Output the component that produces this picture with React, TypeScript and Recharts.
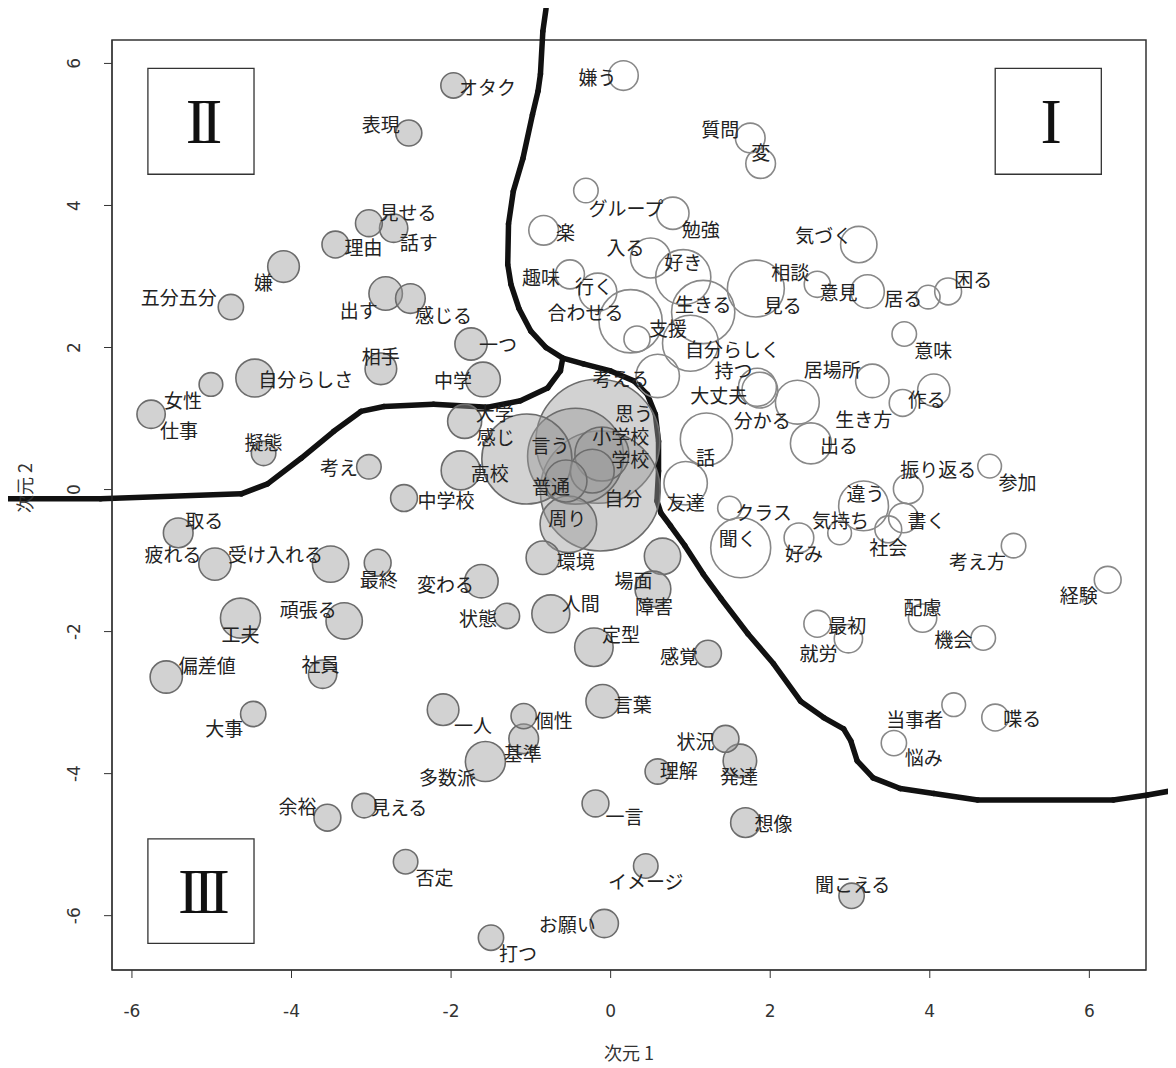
import React from 'react';
import { ScatterChart, Scatter, XAxis, YAxis, ZAxis, ReferenceArea, ReferenceLine, Label } from 'recharts';

type Term = [string, number, number, number]; // word, 次元1, 次元2, frequency

const xTicks = [-6, -4, -2, 0, 2, 4, 6];
const yTicks = [-6, -4, -2, 0, 2, 4, 6];
const xDomain: [number, number] = [-6.25, 6.71];
const yDomain: [number, number] = [-6.765, 6.33];

// Clusters II / III (grey bubbles)
const grayTerms: Term[] = [
  ['オタク', -1.97, 5.69, 16],
  ['表現', -2.53, 5.02, 17],
  ['見せる', -3.03, 3.75, 18],
  ['話す', -2.72, 3.68, 20],
  ['理由', -3.45, 3.45, 18],
  ['嫌', -4.1, 3.14, 25],
  ['五分五分', -4.76, 2.57, 16],
  ['出す', -2.82, 2.76, 28],
  ['感じる', -2.51, 2.69, 22],
  ['一つ', -1.75, 2.05, 26],
  ['相手', -2.88, 1.7, 25],
  ['自分らしさ', -4.46, 1.57, 36],
  ['女性', -5.01, 1.48, 14],
  ['仕事', -5.76, 1.06, 20],
  ['擬態', -4.35, 0.51, 15],
  ['考え', -3.03, 0.32, 15],
  ['中学', -1.6, 1.55, 30],
  ['大学', -1.83, 0.96, 29],
  ['高校', -1.88, 0.27, 38],
  ['中学校', -2.59, -0.12, 18],
  ['取る', -5.42, -0.61, 22],
  ['疲れる', -4.96, -1.05, 26],
  ['受け入れる', -3.51, -1.05, 33],
  ['最終', -2.92, -1.03, 18],
  ['変わる', -1.62, -1.29, 28],
  ['頑張る', -3.34, -1.85, 33],
  ['工夫', -4.64, -1.81, 40],
  ['状態', -1.3, -1.78, 16],
  ['偏差値', -5.57, -2.64, 26],
  ['社員', -3.61, -2.6, 20],
  ['大事', -4.48, -3.16, 16],
  ['一人', -2.1, -3.1, 25],
  ['多数派', -1.57, -3.83, 40],
  ['余裕', -3.55, -4.62, 18],
  ['見える', -3.09, -4.45, 15],
  ['否定', -2.57, -5.24, 15],
  ['打つ', -1.5, -6.31, 16],
  ['個性', -1.09, -3.19, 16],
  ['基準', -1.09, -3.51, 22],
  ['言葉', -0.1, -2.98, 28],
  ['人間', -0.75, -1.75, 36],
  ['定型', -0.21, -2.22, 37],
  ['場面', 0.65, -0.94, 33],
  ['障害', 0.53, -1.4, 32],
  ['感覚', 1.22, -2.31, 18],
  ['状況', 1.44, -3.51, 18],
  ['発達', 1.62, -3.82, 28],
  ['理解', 0.59, -3.97, 16],
  ['一言', -0.19, -4.42, 18],
  ['想像', 1.69, -4.69, 22],
  ['イメージ', 0.44, -5.3, 15],
  ['お願い', -0.08, -6.11, 20],
  ['聞こえる', 3.02, -5.72, 16],
  ['環境', -0.85, -0.96, 28],
  ['周り', -0.53, -0.49, 80],
  ['普通', -0.56, 0.12, 44],
  ['感じ', -1.05, 0.43, 203],
  ['言う', -0.44, 0.47, 230],
  ['小学校', -0.11, 0.5, 73],
  ['学校', -0.23, 0.26, 48],
  ['思う', -0.16, 0.68, 384],
  ['自分', -0.13, -0.02, 360],
];

// Cluster I (white bubbles)
const whiteTerms: Term[] = [
  ['嫌う', 0.16, 5.83, 22],
  ['質問', 1.75, 4.95, 22],
  ['変', 1.88, 4.59, 22],
  ['グループ', -0.31, 4.21, 15],
  ['勉強', 0.78, 3.89, 26],
  ['楽', -0.84, 3.65, 22],
  ['入る', 0.5, 3.26, 40],
  ['好き', 0.91, 2.99, 76],
  ['趣味', -0.51, 3.03, 21],
  ['行く', -0.16, 2.78, 36],
  ['合わせる', 0.25, 2.37, 100],
  ['支援', 0.33, 2.12, 17],
  ['生きる', 1.16, 2.5, 100],
  ['自分らしく', 1.0, 2.06, 78],
  ['見る', 1.82, 2.83, 81],
  ['相談', 2.59, 2.89, 17],
  ['意見', 3.22, 2.79, 28],
  ['居る', 3.98, 2.71, 14],
  ['困る', 4.23, 2.79, 18],
  ['気づく', 3.11, 3.45, 33],
  ['意味', 3.68, 2.19, 15],
  ['居場所', 3.28, 1.53, 28],
  ['作る', 4.05, 1.4, 26],
  ['生き方', 3.66, 1.22, 18],
  ['考える', 0.59, 1.6, 47],
  ['持つ', 1.84, 1.44, 36],
  ['大丈夫', 1.87, 1.4, 32],
  ['分かる', 2.34, 1.23, 48],
  ['話', 1.2, 0.71, 68],
  ['出る', 2.51, 0.65, 42],
  ['友達', 0.94, 0.09, 47],
  ['クラス', 1.49, -0.26, 14],
  ['聞く', 1.63, -0.82, 90],
  ['好み', 2.36, -0.68, 22],
  ['違う', 3.17, -0.23, 62],
  ['振り返る', 3.73, 0.01, 22],
  ['参加', 4.75, 0.33, 14],
  ['書く', 3.67, -0.4, 22],
  ['社会', 3.48, -0.56, 18],
  ['気持ち', 2.87, -0.61, 14],
  ['考え方', 5.05, -0.79, 15],
  ['経験', 6.23, -1.27, 18],
  ['配慮', 3.91, -1.81, 20],
  ['機会', 4.67, -2.09, 15],
  ['最初', 2.59, -1.89, 18],
  ['就労', 2.98, -2.1, 20],
  ['当事者', 4.3, -3.03, 14],
  ['喋る', 4.82, -3.21, 18],
  ['悩み', 3.55, -3.57, 16],
];

// Hand-drawn cluster boundaries (data units)
const topBoundary: [number, number][] = [
  [-0.81, 6.77], [-0.85, 6.45], [-0.88, 5.85], [-0.91, 5.61], [-0.98, 5.28], [-1.1, 4.66],
  [-1.22, 4.2], [-1.28, 3.74], [-1.29, 3.17], [-1.25, 2.89], [-1.15, 2.55], [-1.0, 2.23],
  [-0.81, 2.0], [-0.6, 1.85],
];
const rightBoundary: [number, number][] = [
  [-0.6, 1.85], [-0.34, 1.77], [0.0, 1.67], [0.29, 1.53], [0.46, 1.34], [0.56, 1.06],
  [0.6, 0.68], [0.6, 0.26], [0.58, -0.16], [0.63, -0.33], [0.75, -0.51], [0.93, -0.79],
  [1.16, -1.19], [1.38, -1.53], [1.72, -2.03], [2.04, -2.45], [2.38, -2.98], [2.67, -3.21],
  [2.92, -3.37], [3.01, -3.54], [3.09, -3.82], [3.29, -4.06], [3.63, -4.21], [4.05, -4.28],
  [4.6, -4.37], [6.3, -4.37], [6.73, -4.3], [7.09, -4.23],
];
const leftBoundary: [number, number][] = [
  [-0.6, 1.85], [-0.63, 1.67], [-0.79, 1.43], [-1.13, 1.25], [-1.54, 1.16], [-2.22, 1.2],
  [-2.84, 1.17], [-3.13, 1.1], [-3.47, 0.82], [-3.88, 0.44], [-4.3, 0.08], [-4.63, -0.06],
  [-6.39, -0.13], [-7.6, -0.13],
];

const quadrantBoxes: [string, number, number, number, number][] = [
  ['II', -5.8, -4.47, 4.44, 5.93],
  ['I', 4.82, 6.15, 4.44, 5.93],
  ['III', -5.8, -4.47, -6.39, -4.92],
];

// Layout only: pixel nudge of each word label relative to its bubble
const labelNudge: Record<string, [number, number]> = {
  'オタク': [34, 1], '表現': [-28, -10], '見せる': [39, -12], '話す': [25, 13], '理由': [28, 2],
  '嫌': [-20, 15], '五分五分': [-52, -11], '出す': [-27, 16], '感じる': [33, 16], '一つ': [27, 0],
  '相手': [0, -13], '自分らしさ': [51, 0], '女性': [-28, 15], '仕事': [28, 15], '擬態': [0, -12],
  '考え': [-30, 0], '中学': [-30, 0], '大学': [30, -9], '高校': [29, 2], '中学校': [42, 1],
  '取る': [26, -13], '疲れる': [-42, -11], '受け入れる': [-55, -11], '最終': [1, 16], '変わる': [-36, 2],
  '頑張る': [-36, -12], '工夫': [0, 15], '状態': [-29, 2], '偏差値': [41, -13], '社員': [-2, -11],
  '大事': [-29, 14], '一人': [30, 15], '多数派': [-38, 15], '余裕': [-30, -12], '見える': [35, 1],
  '否定': [29, 15], '打つ': [27, 15], '個性': [30, 3], '基準': [-1, 14], '言葉': [30, 2],
  '人間': [30, -11], '定型': [27, -14], '場面': [-29, 23], '障害': [1, 17], '感覚': [-29, 2],
  '状況': [-30, 2], '発達': [-1, 15], '理解': [21, -2], '一言': [29, 12], '想像': [28, 0],
  'イメージ': [0, 15], 'お願い': [-37, 0], '聞こえる': [1, -12], '環境': [33, 3], '周り': [-1, -7],
  '普通': [-15, 4], '感じ': [-31, -23], '言う': [-25, -12], '小学校': [19, -19], '学校': [38, -13],
  '思う': [36, -29], '自分': [23, 7],
  '嫌う': [-26, 1], '質問': [-30, -10], '変': [0, -12], 'グループ': [40, 17], '勉強': [28, 15],
  '楽': [22, 1], '入る': [-25, -12], '好き': [0, -16], '趣味': [-29, 2], '行く': [-4, -7],
  '合わせる': [-45, -10], '支援': [31, -11], '生きる': [0, -9], '自分らしく': [42, 5], '見る': [27, 16],
  '相談': [-27, -13], '意見': [-29, 0], '居る': [-25, 0], '困る': [25, -13], '気づく': [-35, -10],
  '意味': [29, 15], '居場所': [-40, -12], '作る': [-7, 8], '生き方': [-39, 16], '考える': [-37, 2],
  '持つ': [-24, -18], '大丈夫': [-41, 4], '分かる': [-35, 17], '話': [-1, 17], '出る': [28, 1],
  '友達': [0, 18], 'クラス': [34, 3], '聞く': [-3, -10], '好み': [5, 15], '違う': [2, -13],
  '振り返る': [30, -20], '参加': [28, 15], '書く': [23, 2], '社会': [0, 17], '気持ち': [1, -13],
  '考え方': [-36, 15], '経験': [-29, 15], '配慮': [0, -12], '機会': [-30, 1], '最初': [30, 1],
  '就労': [-30, 14], '当事者': [-39, 14], '喋る': [27, 0], '悩み': [30, 13],
};

const JP_FONT = "'Noto Sans CJK JP', 'Noto Sans', sans-serif";
const NUM_FONT = "'DejaVu Sans', 'Liberation Sans', sans-serif";

const toPoints = (terms: Term[]) =>
  terms.map(([name, x, y, z]) => ({ name, x, y, z })).sort((a, b) => b.z - a.z);

const grayPoints = toPoints(grayTerms);
const whitePoints = toPoints(whiteTerms);
const allPoints = [...grayPoints, ...whitePoints];

const segmentsOf = (pts: [number, number][]) =>
  pts.slice(1).map((pt, i) => [
    { x: pts[i][0], y: pts[i][1] },
    { x: pt[0], y: pt[1] },
  ]);

const boundarySegments = [
  ...segmentsOf(topBoundary),
  ...segmentsOf(rightBoundary),
  ...segmentsOf(leftBoundary),
];

const radiusOf = (p: any) =>
  typeof p.width === 'number' && p.width > 0 ? p.width / 2 : Math.sqrt(Math.max(p.size ?? 0, 0) / Math.PI);

const GrayBubble = (p: any) => (
  <circle cx={p.cx} cy={p.cy} r={radiusOf(p)} fill="#9c9c9c" fillOpacity={0.45} stroke="#6c6c6c" strokeWidth={1.6} />
);

const WhiteBubble = (p: any) => (
  <circle cx={p.cx} cy={p.cy} r={radiusOf(p)} fill="none" stroke="#888" strokeWidth={1.6} />
);

const WordLabel = (p: any) => {
  const name = p.payload?.name ?? p.name;
  const [dx, dy] = labelNudge[name] ?? [0, 0];
  return (
    <text
      x={p.cx + dx}
      y={p.cy + dy}
      textAnchor="middle"
      dominantBaseline="central"
      fontSize={19}
      fontFamily={JP_FONT}
      fill="#222"
    >
      {name}
    </text>
  );
};

const YTick = (p: any) => {
  const x = p.x - 22;
  return (
    <text x={x} y={p.y} transform={`rotate(-90 ${x} ${p.y})`} textAnchor="middle" fontSize={17} fontFamily={NUM_FONT} fill="#333">
      {p.payload.value}
    </text>
  );
};

const XTitle = (p: any) => {
  const vb = p.viewBox;
  return (
    <text x={vb.x + vb.width / 2} y={vb.y + 82} textAnchor="middle" dominantBaseline="central" fontSize={18} fontFamily={JP_FONT} fill="#333">
      次元 1
    </text>
  );
};

const YTitle = () => {
  const x = 16;
  const y = 480;
  return (
    <text x={x} y={y} transform={`rotate(-90 ${x} ${y})`} textAnchor="middle" dominantBaseline="central" fontSize={18} fontFamily={JP_FONT} fill="#333">
      次元 2
    </text>
  );
};

const QuadrantLabel = (text: string) => (p: any) => {
  const vb = p.viewBox;
  return (
    <text
      x={vb.x + vb.width / 2}
      y={vb.y + vb.height / 2}
      textAnchor="middle"
      dominantBaseline="central"
      fontSize={64}
      fontFamily="'Liberation Serif', 'DejaVu Serif', serif"
      letterSpacing={-6}
      fill="#111"
    >
      {text}
    </text>
  );
};

export default function App() {
  return (
    <div style={{ width: 1168, height: 1060, background: '#fff' }}>
      <ScatterChart width={1168} height={1060} margin={{ top: 32, right: 30, bottom: 0, left: 0 }}>
        <XAxis
          type="number"
          dataKey="x"
          domain={xDomain}
          ticks={xTicks}
          allowDataOverflow
          interval={0}
          height={98}
          tickSize={8}
          tickMargin={27}
          stroke="#333"
          tick={{ fill: '#333', fontSize: 17, fontFamily: NUM_FONT }}
        >
          <Label content={XTitle} />
        </XAxis>
        <YAxis
          type="number"
          dataKey="y"
          domain={yDomain}
          ticks={yTicks}
          allowDataOverflow
          interval={0}
          width={104}
          tickSize={8}
          tickMargin={2}
          stroke="#333"
          tick={<YTick />}
        >
          <Label content={YTitle} />
        </YAxis>
        <ZAxis type="number" dataKey="z" domain={[0, 400]} range={[0, 12566.4]} />
        <ReferenceArea
          x1={xDomain[0]}
          x2={xDomain[1]}
          y1={yDomain[0]}
          y2={yDomain[1]}
          fill="none"
          fillOpacity={0}
          stroke="#333"
          strokeWidth={1.5}
          ifOverflow="visible"
        />
        {quadrantBoxes.map(([label, x1, x2, y1, y2]) => (
          <ReferenceArea
            key={label}
            x1={x1}
            x2={x2}
            y1={y1}
            y2={y2}
            fill="#fff"
            fillOpacity={1}
            stroke="#333"
            strokeWidth={1.3}
            ifOverflow="visible"
            label={QuadrantLabel(label)}
          />
        ))}
        <Scatter data={grayPoints} shape={GrayBubble} isAnimationActive={false} />
        <Scatter data={whitePoints} shape={WhiteBubble} isAnimationActive={false} />
        <Scatter data={allPoints} shape={WordLabel} isAnimationActive={false} />
        {boundarySegments.map((seg, i) => (
          <ReferenceLine
            key={`b${i}`}
            segment={seg}
            stroke="#111"
            strokeWidth={5.5}
            strokeLinecap="round"
            ifOverflow="visible"
          />
        ))}
      </ScatterChart>
    </div>
  );
}
